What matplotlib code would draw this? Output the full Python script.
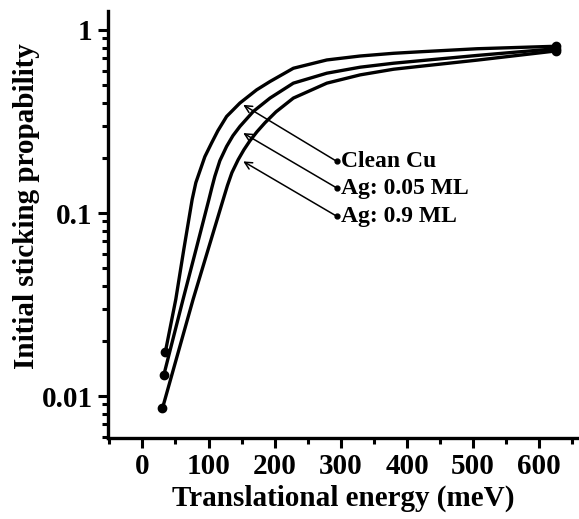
import matplotlib
matplotlib.use('Agg')
import matplotlib.pyplot as plt
from matplotlib.ticker import LogLocator, NullFormatter, FixedLocator, FixedFormatter

plt.rcParams['font.family'] = 'Liberation Serif'
plt.rcParams['font.weight'] = 'bold'

# values
energy_clean = [34.8, 50.5, 62.6, 75.2, 80.8, 87.6, 94.4, 104.5, 114.1, 127.3, 147.4,
                172.7, 192.9, 228.2, 278.8, 329.2, 379.7, 420.2, 506.1, 624.7]
s0_clean = [0.0175, 0.0338, 0.0633, 0.1185, 0.1466, 0.1726, 0.2032, 0.241, 0.2816, 0.337, 0.399,
            0.471, 0.523, 0.618, 0.686, 0.721, 0.746, 0.7605, 0.790, 0.815]

energy_ag005 = [32.3, 61.5, 81.1, 100.5, 105.0, 109.5, 117.1, 127.3, 136.8, 147.4, 167.6,
                192.9, 228.2, 278.8, 329.2, 379.7, 420.2, 506.1, 624.7]
s0_ag005 = [0.0130, 0.0338, 0.0633, 0.1185, 0.1377, 0.1587, 0.1932, 0.2312, 0.2644, 0.2972, 0.3588,
            0.4246, 0.5124, 0.5808, 0.6263, 0.6584, 0.6796, 0.7262, 0.790]

energy_ag09 = [30.3, 76.7, 99.4, 122.1, 128.5, 135.3, 144.8, 153.5, 162.6, 173.2, 185.3,
               202.0, 228.2, 278.8, 329.2, 379.7, 420.2, 506.1, 624.7]
s0_ag09 = [0.00857, 0.0338, 0.0633, 0.1185, 0.1412, 0.1662, 0.1957, 0.2218, 0.2484, 0.278, 0.3113,
           0.3573, 0.4246, 0.5124, 0.5686, 0.6105, 0.6335, 0.6846, 0.768]

labels = ['Clean Cu', 'Ag: 0.05 ML', 'Ag: 0.9 ML']
arrow_head_y = [0.390, 0.2735, 0.1915]
arrow_tail_y = [0.1915, 0.137, 0.096]
arrow_head_x = 152.4
arrow_tail_x = 293.9

fig = plt.figure(figsize=(5.79, 5.19), dpi=100)
ax = fig.add_axes([108 / 579, 1 - 438 / 519, (579 - 108) / 579, (438 - 11) / 519])

for xs, ys in [(energy_clean, s0_clean), (energy_ag005, s0_ag005), (energy_ag09, s0_ag09)]:
    ax.plot(xs, ys, color='black', lw=2.4, solid_capstyle='round', solid_joinstyle='round')
    ax.plot([xs[0], xs[-1]], [ys[0], ys[-1]], 'o', color='black', ms=6)

for lab, hy, ty in zip(labels, arrow_head_y, arrow_tail_y):
    ax.annotate('', xy=(arrow_head_x, hy), xytext=(arrow_tail_x, ty),
                arrowprops=dict(arrowstyle='->', color='black', lw=1.1,
                                shrinkA=0, shrinkB=0, mutation_scale=13))
    ax.plot(arrow_tail_x, ty, 'o', color='black', ms=3.5)
    ax.text(arrow_tail_x + 6, ty, lab, fontsize=17, fontweight='bold',
            va='center', ha='left')

ax.set_yscale('log')
ax.set_xlim(-52, 660)
ax.set_ylim(0.0059, 1.27)

ax.xaxis.set_major_locator(FixedLocator([0, 100, 200, 300, 400, 500, 600]))
ax.xaxis.set_minor_locator(FixedLocator([-50, 50, 150, 250, 350, 450, 550, 650]))
ax.yaxis.set_major_locator(FixedLocator([0.01, 0.1, 1]))
ax.yaxis.set_major_formatter(FixedFormatter(['0.01', '0.1', '1']))
ax.yaxis.set_minor_locator(LogLocator(base=10, subs=range(2, 10)))
ax.yaxis.set_minor_formatter(NullFormatter())

ax.spines['top'].set_visible(False)
ax.spines['right'].set_visible(False)
for s in ['left', 'bottom']:
    ax.spines[s].set_linewidth(2.4)

ax.tick_params(which='major', direction='out', length=7, width=2.2, labelsize=21, pad=4)
ax.tick_params(which='minor', direction='out', length=4.5, width=2.2)
for lab in ax.get_xticklabels() + ax.get_yticklabels():
    lab.set_fontweight('bold')

ax.set_xlabel('Translational energy (meV)', fontsize=21, fontweight='bold', labelpad=3)
ax.set_ylabel('Initial sticking propability', fontsize=21, fontweight='bold')
ax.yaxis.set_label_coords(-0.145, 0.543)

fig.savefig('out.png', dpi=100)
